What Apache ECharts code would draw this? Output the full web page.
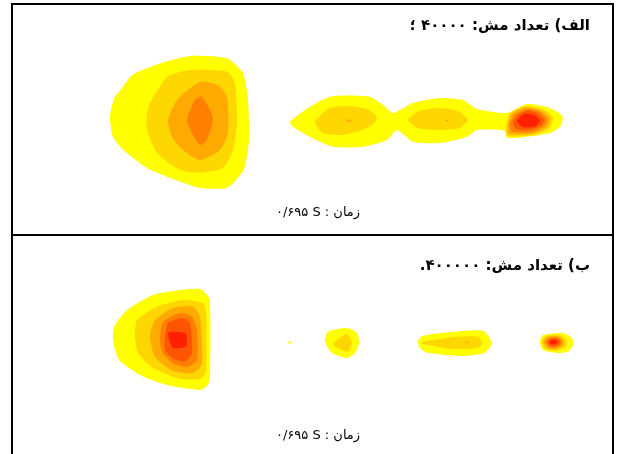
<!DOCTYPE html>
<html>
<head>
<meta charset="utf-8">
<script src="https://cdn.jsdelivr.net/npm/echarts@6/dist/echarts.min.js"></script>
<style>
  html, body { margin: 0; padding: 0; background: #fff; }
  #chart { width: 618px; height: 454px; }
</style>
</head>
<body>
<div id="chart"></div>
<script>
// Contour fill colours, from the lowest level (0) to the highest (5)
const levelColors = ['#FFFF00', '#FFD700', '#FFAA00', '#FF8000', '#FF5500', '#FF2000'];

// Panel titles and time stamp (RTL embedding so the Persian reads right to left)
const titleA = '\u202Bالف) تعداد مش: ۴۰۰۰۰ ؛\u202C';
const titleB = '\u202Bب) تعداد مش: ۴۰۰۰۰۰.\u202C';
const timeLabel = '\u202Bزمان : S\u200F ۰/۶۹۵\u202C';

// ---- Panel A (mesh 40000): contour rings [x, y] in domain units ----
const aMain0 = [[9.8,0.28],[10.2,2.1],[10.8,2.9],[12.1,4.5],[14.8,5.6],[17.8,6.35],[21.5,6.12],[23.1,4.65],[23.6,1.95],[23.7,-2.05],[23.2,-4.95],[22.1,-6.4],[21.3,-6.9],[18.8,-6.85],[16.1,-5.95],[13.6,-4.9],[11.3,-3.2],[10.1,-1.72]];
const aMain1 = [[13.5,0.65],[13.8,1.62],[15.5,4.28],[17.8,4.95],[21.5,4.78],[22.3,3.62],[22.5,-0.35],[22.1,-3.05],[21.1,-4.85],[18.8,-5.32],[16.8,-5.05],[14.5,-3.35],[13.5,-1.05]];
const aMain2 = [[15.6,-0.05],[16.5,1.95],[18.8,3.78],[20.6,3.45],[21.5,2.28],[21.6,-1.35],[20.8,-3.05],[18.8,-4.05],[17.1,-3.05],[16.0,-1.72]];
const aMain3 = [[17.5,-0.05],[18.3,1.95],[19.0,2.28],[20.1,0.15],[19.5,-2.05],[18.8,-2.55],[18.0,-1.35]];
const aChain0 = [[27.8,-0.22],[30.1,1.45],[32.1,2.35],[35.8,2.28],[37.1,1.45],[38.1,0.65],[40.1,1.65],[42.8,2.15],[45.1,1.95],[46.5,1.05],[49.5,0.65],[51.5,1.55],[53.5,1.25],[54.6,0.75],[55.1,0.15],[54.8,-0.72],[53.8,-1.35],[51.5,-1.72],[49.5,-1.85],[49.3,-1.15],[46.5,-1.05],[45.5,-1.72],[42.8,-2.35],[40.1,-2.22],[38.5,-1.05],[37.5,-2.05],[35.1,-2.72],[32.1,-2.72],[29.8,-1.72],[28.1,-0.72]];
const aLobe1L1 = [[30.3,-0.22],[31.8,1.15],[33.8,1.35],[35.8,0.95],[36.5,0.12],[35.8,-0.72],[33.1,-1.55],[31.1,-1.35]];
const aLobe1L2 = [[33.4,-0.12],[33.7,0.02],[34.0,-0.1],[33.7,-0.22]];
const aLobe2L1 = [[39.6,-0.05],[40.5,0.78],[42.5,1.15],[44.5,0.88],[45.6,-0.05],[44.8,-0.85],[42.5,-1.05],[40.5,-0.85]];
const aLobe2L2 = [[43.3,-0.12],[43.5,0.0],[43.7,-0.1],[43.5,-0.2]];
const aTip1 = [[49.4,-0.55],[49.8,0.65],[51.3,1.35],[53.1,1.05],[54.1,0.25],[53.8,-0.85],[52.3,-1.55],[49.5,-1.65]];
const aTip2 = [[49.6,-0.45],[50.0,0.6],[51.4,1.2],[52.9,0.9],[53.8,0.15],[53.5,-0.8],[52.1,-1.4],[49.7,-1.45]];
const aTip3 = [[49.8,-0.35],[50.3,0.5],[51.5,1.05],[52.8,0.75],[53.5,0.05],[53.2,-0.7],[51.9,-1.25],[50.0,-1.2]];
const aTip4 = [[50.1,-0.25],[50.6,0.45],[51.6,0.9],[52.6,0.6],[53.2,-0.05],[52.9,-0.6],[51.8,-1.0],[50.4,-0.95]];
const aTip5 = [[50.5,-0.15],[51.2,0.55],[52.2,0.45],[52.8,-0.1],[52.3,-0.7],[51.1,-0.75]];

// ---- Panel B (mesh 400000) ----
const bMain0 = [[10.1,0.73],[10.3,1.9],[11.5,3.4],[14.1,4.9],[16.8,5.4],[18.8,5.5],[19.5,4.9],[19.8,4.4],[19.8,-3.5],[19.5,-4.2],[18.8,-4.6],[15.5,-4.1],[12.8,-3.1],[10.8,-1.7],[10.3,-0.6]];
const bMain1 = [[12.3,0.73],[12.5,2.4],[14.5,3.73],[17.1,4.4],[19.1,4.1],[19.4,3.1],[19.4,-2.8],[18.8,-3.5],[16.8,-3.5],[14.1,-2.4],[12.6,-0.9]];
const bMain2 = [[13.8,0.73],[14.3,2.4],[16.1,3.6],[18.1,3.73],[18.8,2.73],[19.0,-2.0],[18.1,-2.9],[16.1,-2.7],[14.3,-1.3]];
const bMain3 = [[14.8,0.73],[15.1,2.23],[16.8,3.1],[18.0,2.73],[18.5,1.4],[18.5,-1.6],[17.6,-2.3],[16.1,-1.95],[15.0,-0.77]];
const bMain4 = [[15.3,0.73],[15.6,2.1],[17.1,2.6],[17.8,2.1],[18.0,-0.9],[17.3,-1.77],[16.0,-1.4],[15.3,-0.6]];
const bMain5 = [[15.6,1.1],[16.0,1.23],[17.3,1.1],[17.5,0.6],[17.4,-0.27],[16.1,-0.4],[15.8,0.23]];
const bSpeck0 = [[27.6,0.2],[27.8,0.3],[27.95,0.12],[27.75,0.0]];
const bLobe1L0 = [[31.3,0.23],[31.6,1.23],[33.5,1.6],[34.5,1.1],[34.7,0.1],[34.3,-0.9],[33.5,-1.4],[32.0,-0.9]];
const bLobe1L1 = [[32.1,0.1],[33.5,1.0],[34.0,0.1],[33.6,-0.77],[32.3,-0.27]];
const bLobe2L0 = [[40.6,0.23],[41.0,0.8],[44.1,1.23],[47.1,1.33],[48.0,0.1],[47.3,-0.87],[45.1,-1.2],[41.5,-0.87],[40.8,-0.4]];
const bLobe2L1 = [[41.0,0.2],[44.5,0.73],[46.6,0.73],[47.1,0.1],[46.5,-0.4],[44.0,-0.5],[41.1,0.0]];
const bLobe2L2 = [[45.35,0.15],[45.5,0.25],[45.65,0.15],[45.5,0.05]];
const bTip0 = [[52.8,0.23],[53.1,0.9],[55.1,1.1],[56.0,0.6],[56.1,-0.1],[55.6,-0.77],[54.5,-0.9],[53.1,-0.6]];
const bTip1 = [[52.95,0.2],[53.3,0.8],[54.8,0.9],[55.5,0.4],[55.4,-0.3],[54.4,-0.7],[53.3,-0.5]];
const bTip2 = [[53.15,0.2],[53.5,0.7],[54.7,0.75],[55.2,0.3],[55.1,-0.2],[54.3,-0.55],[53.5,-0.4]];
const bTip3 = [[53.35,0.2],[53.7,0.6],[54.6,0.65],[55.0,0.25],[54.85,-0.15],[54.2,-0.4],[53.65,-0.25]];
const bTip4 = [[53.55,0.2],[53.85,0.5],[54.5,0.55],[54.8,0.25],[54.65,-0.05],[54.15,-0.25],[53.75,-0.1]];
const bTip5 = [[53.75,0.2],[54.0,0.4],[54.4,0.4],[54.55,0.15],[54.3,-0.05],[53.9,0.0]];

// Rings drawn in order: lower levels first, higher levels on top
const ringsA = [
  {level:0, pts:aMain0}, {level:1, pts:aMain1}, {level:2, pts:aMain2}, {level:3, pts:aMain3},
  {level:0, pts:aChain0},
  {level:1, pts:aLobe1L1}, {level:2, pts:aLobe1L2},
  {level:1, pts:aLobe2L1}, {level:2, pts:aLobe2L2},
  {level:1, pts:aTip1}, {level:2, pts:aTip2}, {level:3, pts:aTip3}, {level:4, pts:aTip4}, {level:5, pts:aTip5}
];
const ringsB = [
  {level:0, pts:bMain0}, {level:1, pts:bMain1}, {level:2, pts:bMain2}, {level:3, pts:bMain3}, {level:4, pts:bMain4}, {level:5, pts:bMain5},
  {level:0, pts:bSpeck0},
  {level:0, pts:bLobe1L0}, {level:1, pts:bLobe1L1},
  {level:0, pts:bLobe2L0}, {level:1, pts:bLobe2L1}, {level:2, pts:bLobe2L2},
  {level:0, pts:bTip0}, {level:1, pts:bTip1}, {level:2, pts:bTip2}, {level:3, pts:bTip3}, {level:4, pts:bTip4}, {level:5, pts:bTip5}
];

function contourSeries(rings, idx) {
  return {
    type: 'custom',
    xAxisIndex: idx,
    yAxisIndex: idx,
    silent: true,
    animation: false,
    data: rings.map(r => r.pts[0]),
    renderItem: function (params, api) {
      const ring = rings[params.dataIndex];
      const points = ring.pts.map(p => api.coord(p));
      return {
        type: 'polygon',
        shape: { points: points, smooth: 0.2 },
        style: { fill: levelColors[ring.level], stroke: null }
      };
    }
  };
}

const chart = echarts.init(document.getElementById('chart'), null, { renderer: 'canvas' });
const arabicFont = "'DejaVu Sans', sans-serif";

chart.setOption({
  backgroundColor: '#ffffff',
  animation: false,
  grid: [
    { left: 12, top: 4, width: 601, height: 231, show: false },
    { left: 12, top: 235, width: 601, height: 219, show: false }
  ],
  xAxis: [
    { type: 'value', gridIndex: 0, min: 0, max: 60.1, show: false },
    { type: 'value', gridIndex: 1, min: 0, max: 60.1, show: false }
  ],
  yAxis: [
    { type: 'value', gridIndex: 0, min: -11.55, max: 11.55, show: false },
    { type: 'value', gridIndex: 1, min: -11.0, max: 10.9, show: false }
  ],
  series: [contourSeries(ringsA, 0), contourSeries(ringsB, 1)],
  graphic: [
    // outer frame (open at the bottom) and the divider between the two panels
    { type: 'polyline', shape: { points: [[12, 460], [12, 4], [613, 4], [613, 460]] }, style: { stroke: '#000', lineWidth: 2, fill: null }, silent: true },
    { type: 'line', shape: { x1: 12, y1: 235, x2: 613, y2: 235 }, style: { stroke: '#000', lineWidth: 2 }, silent: true },
    { type: 'text', right: 28, top: 19, style: { text: titleA, font: "bold 15px " + arabicFont, fill: '#000' } },
    { type: 'text', right: 28, top: 259, style: { text: titleB, font: "bold 15px " + arabicFont, fill: '#000' } },
    { type: 'text', left: 276, top: 206, style: { text: timeLabel, font: "13px " + arabicFont, fill: '#000' } },
    { type: 'text', left: 276, top: 429, style: { text: timeLabel, font: "13px " + arabicFont, fill: '#000' } }
  ]
});
</script>
</body>
</html>
